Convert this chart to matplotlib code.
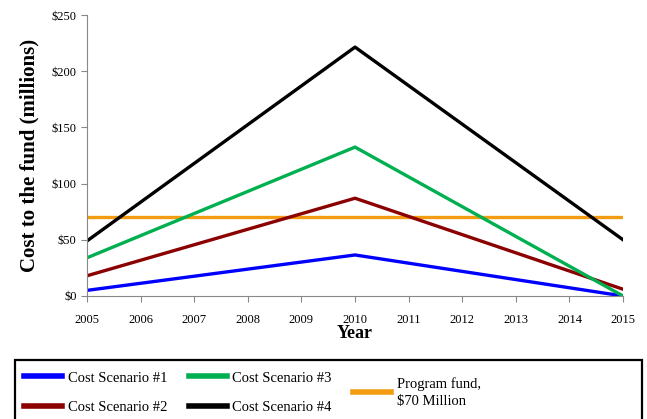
import numpy as np
import matplotlib.pyplot as plt
from matplotlib.patches import Rectangle

plt.rcParams['font.family'] = ['Liberation Serif', 'DejaVu Serif']

years = [2005, 2010, 2015]
scenario1 = [5, 36.5, 0]
scenario2 = [18, 87, 6]
scenario3 = [34, 132.5, 0]
scenario4 = [49, 221.5, 50]
fund_years = [2005, 2015]
fund = [70, 70]

fig = plt.figure(figsize=(6.47, 4.19), dpi=100)
ax = fig.add_axes([0.1345, 0.2936, 0.8285, 0.6704])

lw = 2.4
l1, = ax.plot(years, scenario1, color='#0000FF', lw=lw, label='Cost Scenario #1')
l2, = ax.plot(years, scenario2, color='#8B0000', lw=lw, label='Cost Scenario #2')
l3, = ax.plot(years, scenario3, color='#00B050', lw=lw, label='Cost Scenario #3')
l4, = ax.plot(years, scenario4, color='#000000', lw=lw, label='Cost Scenario #4')
lf, = ax.plot(fund_years, fund, color='#F39C12', lw=lw, label='Program fund,\n$70 Million')
# keep the fund line under the scenario lines at the crossings
lf.set_zorder(1.5)

ax.set_xlim(2005, 2015)
ax.set_ylim(0, 250)
ax.set_xticks(range(2005, 2016))
ax.set_yticks(range(0, 251, 50))
ax.set_yticklabels(['$%d' % v for v in range(0, 251, 50)])
ax.tick_params(labelsize=9, color='#888888', length=4, direction='out')
ax.tick_params(axis='x', pad=9)
for s in ['top', 'right']:
    ax.spines[s].set_visible(False)
for s in ['left', 'bottom']:
    ax.spines[s].set_color('#888888')

ax.set_xlabel('Year', fontsize=13, fontweight='bold', labelpad=-1)
ax.set_ylabel('Cost to the fund (millions)', fontsize=15, fontweight='bold', labelpad=9)

# legend box runs off the bottom of the figure
leg_top = 1 - 360/419
fig.patches.append(Rectangle((15/647, -0.05), 627/647, leg_top + 0.05,
                             transform=fig.transFigure, fill=False,
                             ec='black', lw=1.6))

leg = fig.legend(handles=[l1, l2, l3, l4, lf], ncol=3, loc='upper left',
                 bbox_to_anchor=(17/647, 1 - 364/419), frameon=False, borderaxespad=0,
                 fontsize=10.5, handlelength=2.6, handletextpad=0.4,
                 columnspacing=1.45, borderpad=0.5, labelspacing=1.1)
# centre the fund entry between the two rows
leg._legend_handle_box.align = 'center'
leg.get_texts()[4].set_linespacing(1.45)
for h in leg.get_lines():
    h.set_linewidth(4)

fig.savefig('out.png', dpi=100)
